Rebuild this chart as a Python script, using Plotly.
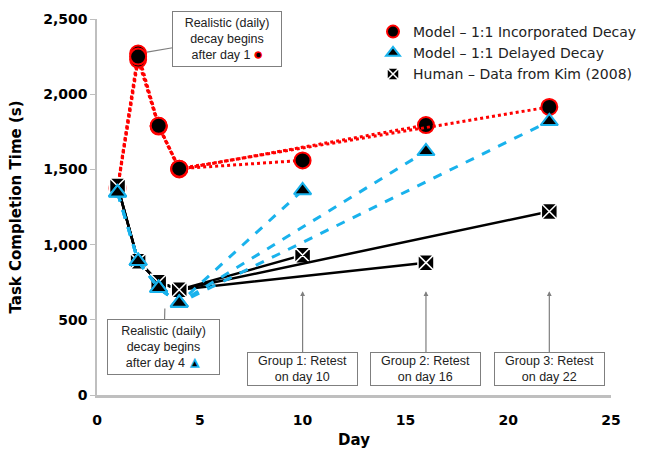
import plotly.graph_objects as go

# ---------------- data ----------------
early_days = [1, 2, 3, 4]
retest_days = [10, 16, 22]
group_names = ["Group 1", "Group 2", "Group 3"]

incorporated_early = [
    [1380, 2270, 1790, 1505],
    [1370, 2230, 1785, 1500],
    [1375, 2250, 1790, 1505],
]
incorporated_retest = [1560, 1795, 1915]

delayed_early = [
    [1345, 890, 710, 612],
    [1345, 890, 710, 612],
    [1345, 890, 710, 612],
]
delayed_retest = [1360, 1620, 1820]

human_early = [
    [1390, 890, 750, 700],
    [1390, 890, 750, 700],
    [1390, 890, 750, 700],
]
human_retest = [930, 880, 1220]

series_labels = [
    "Model \u2013 1:1 Incorporated Decay",
    "Model \u2013 1:1 Delayed Decay",
    "Human \u2013 Data from Kim (2008)",
]
retest_labels = ["Group 1: Retest<br>on day 10", "Group 2: Retest<br>on day 16", "Group 3: Retest<br>on day 22"]
y_ticks = [0, 500, 1000, 1500, 2000, 2500]
x_ticks = [0, 5, 10, 15, 20, 25]

RED = "#ff0000"
BLUE = "#19b2ec"
BLACK = "#000000"

red_marker = dict(symbol="circle", size=16, color="black", line=dict(color=RED, width=2))
blue_marker = dict(symbol="triangle-up", size=15, color="black", line=dict(color=BLUE, width=2))
black_marker = dict(symbol="square-x", size=16, color="black", line=dict(color="white", width=1.5))

fig = go.Figure()

def add_groups(early, retest, line, marker):
    for g in range(3):
        fig.add_trace(go.Scatter(
            x=early_days + [retest_days[g]],
            y=early[g] + [retest[g]],
            mode="lines+markers",
            line=line,
            marker=marker,
            showlegend=False,
            hoverinfo="x+y",
        ))

add_groups(incorporated_early, incorporated_retest, dict(color=RED, width=3, dash="dot"), red_marker)
add_groups(human_early, human_retest, dict(color=BLACK, width=2.5), black_marker)
add_groups(delayed_early, delayed_retest, dict(color=BLUE, width=3, dash="dash"), blue_marker)

# legend-only entries (marker only)
for label, mk, rank in zip(series_labels, [red_marker, blue_marker, black_marker], [1, 2, 3]):
    m = dict(mk)
    m["size"] = 12
    fig.add_trace(go.Scatter(x=[None], y=[None], mode="markers", marker=m,
                             name=label, legendrank=rank, showlegend=True))

box_font = dict(family="Liberation Sans, Arial, sans-serif", size=12.5, color="#222222")

# "after day 1" callout
fig.add_annotation(
    x=2, y=incorporated_early[0][1], xref="x", yref="y",
    text="Realistic (daily)<br>decay begins<br>after day 1 <span style='font-size:14px;fill:black;stroke:#ff0000;stroke-width:1.5px'>\u25cf</span>",
    showarrow=True, arrowhead=0, arrowcolor="#7f7f7f", arrowwidth=1.2,
    ax=89, ay=-15, standoff=9,
    bordercolor="#7f7f7f", borderwidth=1, borderpad=2, bgcolor="white",
    width=104, height=50, font=box_font, align="center",
)

# "after day 4" callout
fig.add_annotation(
    x=3.3, y=575, xref="x", yref="y",
    text="Realistic (daily)<br>decay begins<br>after day 4 <span style='font-size:13px;fill:black;stroke:#19b2ec;stroke-width:1.5px'>\u25b2</span>",
    showarrow=True, arrowhead=0, arrowcolor="#7f7f7f", arrowwidth=1.2,
    ax=-1, ay=38, standoff=0,
    bordercolor="#7f7f7f", borderwidth=1, borderpad=2, bgcolor="white",
    width=107, height=50, font=box_font, align="center",
)

# retest boxes with arrows
for d, lab in zip(retest_days, retest_labels):
    fig.add_annotation(
        x=d, y=690, xref="x", yref="y",
        text=lab, showarrow=True, arrowhead=2, arrowsize=0.8, arrowwidth=1.2,
        arrowcolor="#7f7f7f", ax=0, ay=78, standoff=0,
        bordercolor="#7f7f7f", borderwidth=1, borderpad=1, bgcolor="white",
        width=107, height=30, font=dict(family="Liberation Sans, Arial, sans-serif", size=12.5, color="#222222"),
        align="center",
    )

tick_font = dict(family="DejaVu Sans", size=14, color="black", weight="bold")

fig.update_layout(
    width=650, height=449,
    margin=dict(l=97, r=39, t=19, b=54, autoexpand=False),
    paper_bgcolor="white", plot_bgcolor="white",
    showlegend=True,
    legend=dict(xref="container", yref="container", x=373 / 650, y=1 - 16 / 449,
                xanchor="left", yanchor="top",
                font=dict(family="DejaVu Sans", size=14, color="#222222"),
                bgcolor="rgba(255,255,255,0)", tracegroupgap=0, itemwidth=30,
                traceorder="normal"),
    xaxis=dict(range=[0, 25], tickvals=x_ticks, showgrid=False, zeroline=False, automargin=False,
               showline=True, linecolor="#bfbfbf", linewidth=3,
               ticks="outside", ticklen=10, tickcolor="white", tickfont=tick_font,
               title=dict(text="Day", font=dict(family="DejaVu Sans", size=15, color="black", weight="bold"), standoff=8)),
    yaxis=dict(range=[0, 2500], tickvals=y_ticks, tickformat=",d", showgrid=False, zeroline=False, automargin=False,
               showline=True, linecolor="#bfbfbf", linewidth=1.5,
               ticks="outside", ticklen=5, tickcolor="#bfbfbf", tickfont=tick_font,
               title=dict(text="Task Completion Time (s)", font=dict(family="DejaVu Sans", size=15, color="black", weight="bold"), standoff=18)),
)

fig.write_html("out.html")
